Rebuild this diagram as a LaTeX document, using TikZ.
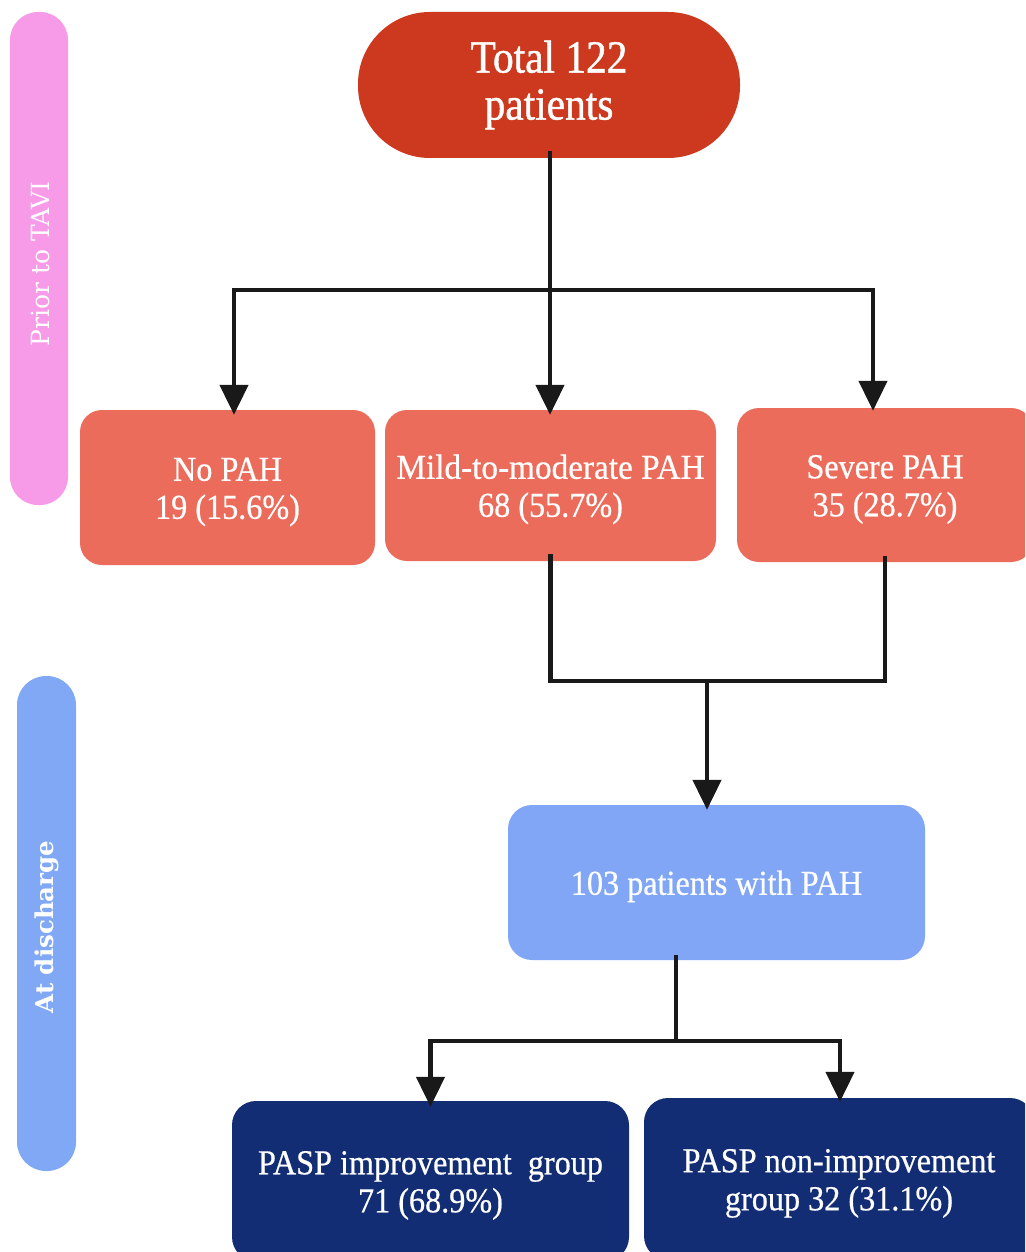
\documentclass[tikz,border=0pt]{standalone}
\usepackage{fontspec}
\setmainfont{Liberation Serif}
\newfontfamily\boxfont{Liberation Serif}[FakeStretch=0.92,FakeBold=0.6]
\newfontfamily\midfont{Liberation Serif}[FakeStretch=0.95,FakeBold=0.6]
\newfontfamily\topfont{Liberation Serif}[FakeStretch=0.9,FakeBold=1]
\newfontfamily\sidefont{DejaVu Serif}
\usetikzlibrary{arrows.meta}
\definecolor{topred}{RGB}{205,57,31}
\definecolor{salmon}{RGB}{236,108,91}
\definecolor{lblue}{RGB}{128,166,245}
\definecolor{navy}{RGB}{19,45,116}
\definecolor{pinkbar}{RGB}{247,154,231}
\definecolor{bluebar}{RGB}{129,168,245}
\newcommand\pdstrut{\rule{0pt}{32pt}}
\tikzset{
  boxbase/.style={rectangle, inner sep=0pt, align=center, text=white},
  redbox/.style={boxbase, fill=salmon, rounded corners=22pt, font=\boxfont\fontsize{35}{38}\selectfont},
  bluebox/.style={boxbase, fill=lblue, rounded corners=24pt, font=\boxfont\fontsize{35}{38}\selectfont},
  navybox/.style={boxbase, fill=navy, rounded corners=24pt, font=\boxfont\fontsize{35}{38}\selectfont},
  sidebar/.style={rectangle, inner sep=0pt, rounded corners=28pt},
  sidelabel/.style={text=white, rotate=90, inner sep=0pt},
  conn/.style={line width=4.5pt, black!90},
  arr/.style={conn, -{Triangle[width=28pt,length=30pt]}},
}
\begin{document}
\begin{tikzpicture}[x=1pt,y=-1pt]
\useasboundingbox (0,0) rectangle (1025,1252);
\fill[white] (0,0) rectangle (1025,1252);
\clip (0,0) rectangle (1025,1252);
% side bars
\node[sidebar, fill=pinkbar, minimum width=58pt, minimum height=493pt] (prior) at (39,258.5) {};
\node[sidelabel, font=\sidefont\fontsize{25}{28}\selectfont] (priorlbl) at (40,264) {Prior to TAVI};
\node[sidebar, fill=bluebar, minimum width=59pt, minimum height=495pt, rounded corners=29pt] (disch) at (46.5,923.5) {};
\node[sidelabel, font=\sidefont\bfseries\fontsize{24.5}{27}\selectfont] (dischlbl) at (47,927) {At discharge};
% top node
\node[boxbase, fill=topred, rounded corners=72pt, minimum width=382pt, minimum height=146pt,
      font=\topfont\fontsize{46}{47}\selectfont] (total) at (549,85) {Total 122\\patients};
% second row
\node[redbox, minimum width=295pt, minimum height=155pt] (nopah) at (227.5,487.5) {\pdstrut No PAH\\19 (15.6\%)};
\node[redbox, minimum width=331pt, minimum height=151pt] (mild) at (550.5,485.5) {\pdstrut{\midfont Mild-to-moderate PAH}\\68 (55.7\%)};
\node[redbox, minimum width=296pt, minimum height=154pt] (severe) at (885,485) {\pdstrut Severe PAH\\35 (28.7\%)};
% third row
\node[bluebox, minimum width=417pt, minimum height=155pt] (pah) at (716.5,882.5) {\rule{0pt}{32pt}103 patients with PAH};
% bottom row
\node[navybox, minimum width=397pt, minimum height=160pt] (impr) at (430.5,1181) {\pdstrut PASP improvement~~group\\71 (68.9\%)};
\node[navybox, minimum width=390pt, minimum height=162pt] (nonimpr) at (839,1179) {\pdstrut PASP non-improvement\\group 32 (31.1\%)};
% junction coordinates
\coordinate (j1) at (550,290);
\coordinate (j2) at (707,681);
\coordinate (j3) at (676,1041);
% connectors: top to second row
\draw[conn] ([yshift=7pt]total.south -| j1) -- (j1);
\draw[arr] (j1) -- ([yshift=-5pt]mild.north -| j1);
\draw[arr] (j1) -| ([xshift=6.5pt,yshift=-5pt]nopah.north);
\draw[arr] (j1) -| ([xshift=-12pt,yshift=-3pt]severe.north);
% second row to PAH
\draw[conn] ([yshift=7pt]mild.south) |- (j2);
\draw[conn] ([yshift=6pt]severe.south) |- (j2);
\draw[arr] (j2) -- ([yshift=-5pt]pah.north -| j2);
% PAH to groups
\draw[conn] ([yshift=5pt]pah.south -| j3) -- (j3);
\draw[arr] (j3) -| ([yshift=-6pt]impr.north);
\draw[arr] (j3) -| ([xshift=1pt,yshift=-4pt]nonimpr.north);
\end{tikzpicture}
\end{document}
